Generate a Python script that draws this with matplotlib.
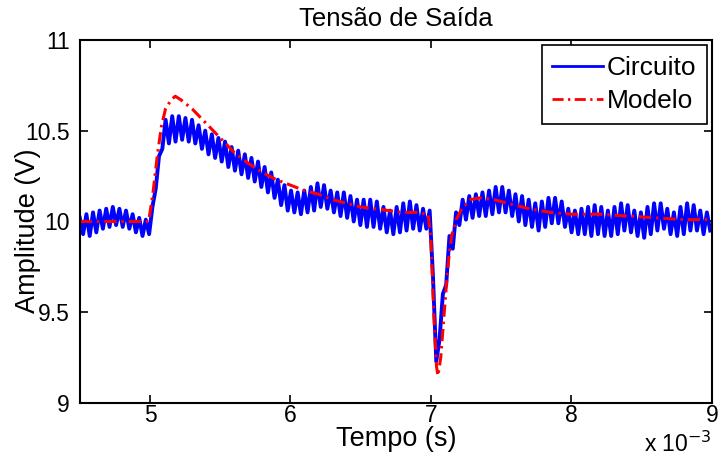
import numpy as np
import matplotlib
matplotlib.use("Agg")
import matplotlib.pyplot as plt

plt.rcParams['font.family'] = ['Liberation Sans', 'DejaVu Sans']

# Circuit output: ripple peaks (hi) and troughs (lo) per switching cycle, in V
ripple_period_ms = 0.047
circ_hi = [10.02, 10.04, 10.05, 10.06, 10.07, 10.08, 10.07, 10.06, 10.04, 10.02,
           10.01, 10.08, 10.36, 10.56, 10.58, 10.58, 10.57, 10.56, 10.53, 10.50,
           10.48, 10.46, 10.44, 10.41, 10.39, 10.37, 10.35, 10.33, 10.30, 10.27,
           10.23, 10.20, 10.17, 10.16, 10.17, 10.19, 10.21, 10.20, 10.17, 10.16,
           10.16, 10.14, 10.12, 10.12, 10.12, 10.11, 10.08, 10.06, 10.08, 10.10,
           10.11, 10.09, 10.07, 10.06, 9.23, 9.60, 9.92, 10.05, 10.12, 10.14,
           10.15, 10.16, 10.17, 10.19, 10.19, 10.17, 10.15, 10.14, 10.12, 10.10,
           10.11, 10.13, 10.13, 10.11, 10.07, 10.06, 10.07, 10.08, 10.09, 10.08,
           10.06, 10.08, 10.10, 10.09, 10.06, 10.05, 10.08, 10.10, 10.10, 10.07,
           10.05, 10.08, 10.10, 10.09, 10.06, 10.05]
circ_lo = [9.93, 9.92, 9.94, 9.96, 9.97, 9.98, 9.97, 9.96, 9.94, 9.92,
           9.93, 10.18, 10.40, 10.43, 10.44, 10.45, 10.44, 10.43, 10.40, 10.37,
           10.35, 10.33, 10.30, 10.28, 10.26, 10.24, 10.22, 10.19, 10.16, 10.13,
           10.09, 10.06, 10.05, 10.04, 10.05, 10.06, 10.08, 10.07, 10.05, 10.03,
           10.02, 10.00, 9.98, 9.97, 9.97, 9.96, 9.94, 9.93, 9.94, 9.95,
           9.96, 9.95, 9.96, 9.70, 9.35, 9.65, 9.85, 9.98, 10.01, 10.02,
           10.03, 10.03, 10.04, 10.05, 10.05, 10.03, 10.00, 9.98, 9.97, 9.95,
           9.97, 9.99, 9.99, 9.97, 9.94, 9.93, 9.93, 9.92, 9.93, 9.92,
           9.92, 9.93, 9.95, 9.94, 9.92, 9.91, 9.93, 9.95, 9.96, 9.93,
           9.92, 9.93, 9.95, 9.95, 9.93, 9.95]

# Model output
model_t = [4.5, 4.99, 5.02, 5.05, 5.08, 5.11, 5.15, 5.18, 5.22, 5.3, 5.4, 5.5,
           5.6, 5.7, 5.8, 5.9, 6.0, 6.1, 6.2, 6.3, 6.4, 6.5, 6.6, 6.7, 6.8,
           6.9, 6.98, 7.0, 7.02, 7.04, 7.05, 7.07, 7.09, 7.11, 7.13, 7.15,
           7.18, 7.22, 7.28, 7.35, 7.45, 7.55, 7.7, 7.85, 8.0, 8.2, 8.4, 8.6,
           8.8, 9.0]
model_v = [10.0, 10.0, 10.15, 10.35, 10.52, 10.62, 10.67, 10.69, 10.67, 10.62,
           10.54, 10.46, 10.38, 10.32, 10.27, 10.23, 10.20, 10.17, 10.15, 10.12,
           10.10, 10.08, 10.07, 10.06, 10.05, 10.05, 10.04, 9.90, 9.50, 9.20,
           9.15, 9.25, 9.45, 9.65, 9.82, 9.93, 10.01, 10.07, 10.12, 10.13,
           10.12, 10.10, 10.07, 10.05, 10.04, 10.04, 10.03, 10.02, 10.01, 10.01]

# interleave peaks and troughs in time order
n = len(circ_hi)
circ_t = []
circ_v = []
for k in range(n):
    circ_t += [4.5 + k * ripple_period_ms, 4.5 + (k + 0.5) * ripple_period_ms]
    circ_v += [circ_hi[k], circ_lo[k]]

fig = plt.figure(figsize=(7.19, 4.70), dpi=100)
ax = fig.add_axes([0.111, 0.1426, 0.879, 0.7724])

ax.plot(circ_t, circ_v, color='#0000ff', lw=2.8, label='Circuito')
ax.plot(model_t, model_v, color='#ff0000', lw=2.2, ls=(0, (4, 1.6, 0.8, 1.6)),
        label='Modelo')

ax.set_xlim(4.5, 9.0)
ax.set_ylim(9, 11)
ax.set_xticks([5, 6, 7, 8, 9])
ax.set_xticklabels(['5', '6', '7', '8', '9'])
ax.set_yticks([9, 9.5, 10, 10.5, 11])
ax.set_yticklabels(['9', '9.5', '10', '10.5', '11'])
ax.tick_params(direction='in', top=True, right=True, length=6, width=1.2,
               labelsize=16.5)
ax.tick_params(axis='x', pad=1)
ax.tick_params(axis='y', pad=7)
for s in ax.spines.values():
    s.set_linewidth(1.5)

ax.set_title('Tensão de Saída', fontsize=18.5, pad=10)
ax.set_xlabel('Tempo (s)', fontsize=19.5, labelpad=-1)
ax.set_ylabel('Amplitude (V)', fontsize=19.5)
ax.yaxis.set_label_coords(-0.062, 0.475)
fig.text(0.99, 0.028, 'x 10$^{-3}$', ha='right', va='bottom', fontsize=16.5)

leg = ax.legend(loc='upper right', fontsize=19, fancybox=False, framealpha=1,
                edgecolor='black', handlelength=1.9, borderpad=0.4,
                labelspacing=0.35, handletextpad=0.15, borderaxespad=0.2)
leg.get_frame().set_linewidth(1.2)
for ln in leg.get_lines():
    ln.set_linewidth(2.0)

fig.savefig('out.png', dpi=100)
